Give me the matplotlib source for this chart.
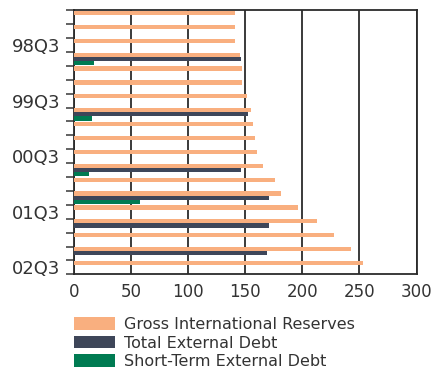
import matplotlib.pyplot as plt
import numpy as np

quarters = ["98Q1", "98Q2", "98Q3", "98Q4",
            "99Q1", "99Q2", "99Q3", "99Q4",
            "00Q1", "00Q2", "00Q3", "00Q4",
            "01Q1", "01Q2", "01Q3", "01Q4",
            "02Q1", "02Q2", "02Q3"]
reserves = [141, 141, 141, 145, 147, 147, 151.5, 155, 157, 158.5,
            160, 165.5, 176, 181, 196, 213, 228, 243, 253.5]
total_debt = [np.nan, np.nan, np.nan, 146, np.nan, np.nan, np.nan, 152,
              np.nan, np.nan, np.nan, 146, np.nan, 171, np.nan, 171,
              np.nan, 169, np.nan]
short_debt = [np.nan, np.nan, np.nan, 17.5, np.nan, np.nan, np.nan, 15.5,
              np.nan, np.nan, np.nan, 13, np.nan, 57.5, np.nan, np.nan,
              np.nan, np.nan, np.nan]
xticks = [0, 50, 100, 150, 200, 250, 300]

c_res = "#F9AF7F"
c_tot = "#3E4659"
c_st = "#007B52"
txt = "#333333"


def main():
    fig = plt.figure(figsize=(4.33, 3.68), dpi=100)
    ax = fig.add_axes([0.171, 0.2546, 0.791, 0.7174])

    y = np.arange(len(quarters))
    h = 0.30
    ax.barh(y - 0.31, reserves, height=h, color=c_res, label="Gross International Reserves", zorder=3)
    ax.barh(y - 0.01, total_debt, height=h, color=c_tot, label="Total External Debt", zorder=3)
    ax.barh(y + 0.29, short_debt, height=h, color=c_st, label="Short-Term External Debt", zorder=3)

    ax.set_xlim(0, 300)
    ax.set_ylim(len(quarters) - 0.5, -0.5)
    ax.set_xticks(xticks)
    ax.xaxis.grid(True, color="#2b2b2b", linewidth=1.3, zorder=1)
    ax.set_axisbelow(True)

    # labels only for Q3, tick marks on the band edges
    lab_pos = [i for i, q in enumerate(quarters) if q.endswith("Q3")]
    ax.set_yticks(lab_pos)
    ax.set_yticklabels([quarters[i] for i in lab_pos])
    ax.set_yticks(np.arange(-0.5, len(quarters)), minor=True)
    ax.tick_params(axis="y", which="major", length=0, pad=10, labelsize=13, labelcolor=txt)
    ax.tick_params(axis="y", which="minor", length=6, width=1.3, color="#555555")
    ax.tick_params(axis="x", length=0, pad=6, labelsize=12, labelcolor=txt)

    for s in ax.spines.values():
        s.set_color("#2b2b2b")
        s.set_linewidth(1.3)

    fig.legend(loc="upper left", bbox_to_anchor=(0.155, 0.155), frameon=False,
               fontsize=11.5, handlelength=2.6, handleheight=0.85,
               handletextpad=0.55, labelspacing=0.2, borderaxespad=0,
               labelcolor=txt)

    fig.savefig("out.png", dpi=100)


if __name__ == "__main__":
    main()
